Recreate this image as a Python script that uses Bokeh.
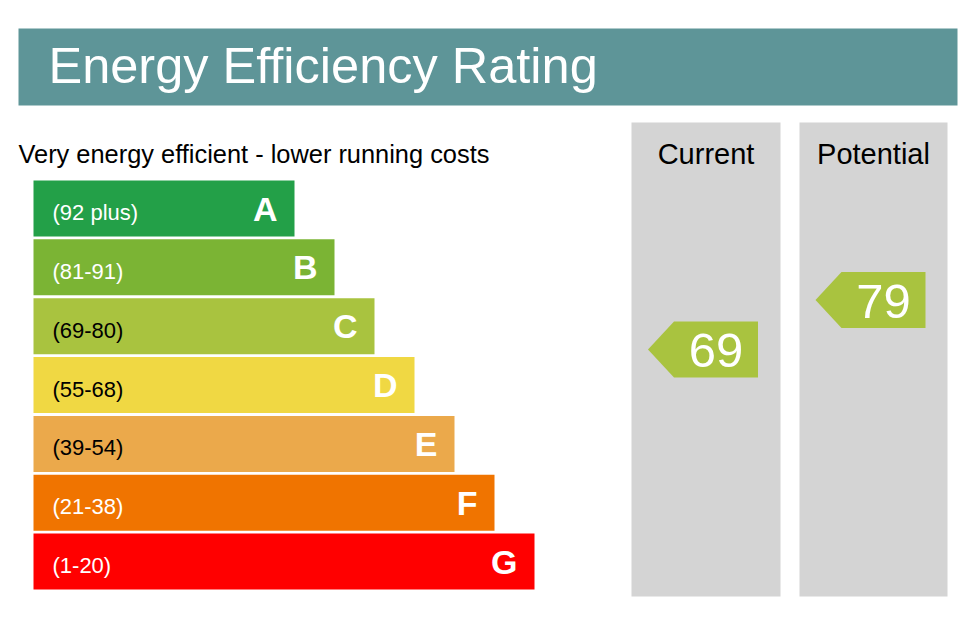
from bokeh.plotting import figure
from bokeh.models import ColumnDataSource, Range1d
from bokeh.core.properties import value
from bokeh.embed import file_html
from bokeh.resources import INLINE

# data
bands = ["A", "B", "C", "D", "E", "F", "G"]
band_ranges = ["(92 plus)", "(81-91)", "(69-80)", "(55-68)", "(39-54)", "(21-38)", "(1-20)"]
band_colors = ["#23A048", "#7BB434", "#A9C33F", "#F0D843", "#EBA94B", "#F07400", "#FF0000"]
range_text_colors = ["white", "white", "black", "black", "black", "white", "white"]
columns = ["Current", "Potential"]
ratings = [69, 79]
rating_color = "#A9C33F"

FONT = value("Liberation Sans")

# figure units are page pixels
p = figure(
    width=964,
    height=626,
    x_range=Range1d(0, 964),
    y_range=Range1d(626, 0),
    output_backend="svg",
    toolbar_location=None,
    tools="",
    min_border=0,
)
p.axis.visible = False
p.grid.grid_line_color = None
p.outline_line_color = None
p.background_fill_color = "white"

# header
p.quad(left=18, right=957, top=28, bottom=105, fill_color="#5E9598", line_color=None)
p.text(x=[48], y=[65], text=["Energy Efficiency Rating"], text_font=FONT,
       text_font_size="50.5px", text_color="white", text_baseline="middle")

p.text(x=[18], y=[153], text=["Very energy efficient - lower running costs"],
       text_font=FONT, text_font_size="25.4px", text_color="black",
       text_baseline="middle")

# band bars
centers = [208 + 58.85 * i for i in range(len(bands))]
rights = [294 + 40 * i for i in range(len(bands))]
bars = ColumnDataSource(dict(
    y=centers,
    right=rights,
    letter_x=[r - 17 for r in rights],
    label_y=[c + 4 for c in centers],
    band=bands,
    rng=band_ranges,
    color=band_colors,
    tcolor=range_text_colors,
))
p.hbar(y="y", left=33, right="right", height=56, fill_color="color",
       line_color=None, source=bars)
p.text(x=52, y="label_y", text="rng", text_color="tcolor", text_font=FONT,
       text_font_size="22px", text_baseline="middle", source=bars)
p.text(x="letter_x", y="y", text="band", text_color="white", text_font=FONT,
       text_font_size="34px", text_font_style="bold", text_align="right",
       text_baseline="middle", source=bars)

# current / potential panels
panel_left = [631, 799]
panel_right = [780, 947]
panel_mid = [(a + b) / 2 for a, b in zip(panel_left, panel_right)]
p.quad(left=panel_left, right=panel_right, top=122, bottom=596,
       fill_color="#D4D4D4", line_color=None)
p.text(x=panel_mid, y=[153] * 2, text=columns, text_font=FONT,
       text_font_size="29px", text_color="black", text_align="center",
       text_baseline="middle")

# rating arrows, placed on a linear rating scale
arrow_y = [349 - 4.95 * (r - 69) for r in ratings]
xs, ys, num_x = [], [], []
for mid, yc in zip(panel_mid, arrow_y):
    right = mid + 52
    left = right - 84
    tip = right - 110
    xs.append([tip, left, right, right, left])
    ys.append([yc, yc - 28, yc - 28, yc + 28, yc + 28])
    num_x.append((left + right) / 2)
p.patches(xs=xs, ys=ys, fill_color=rating_color, line_color=None)
p.text(x=num_x, y=[y + 1 for y in arrow_y], text=[str(r) for r in ratings],
       text_font=FONT, text_font_size="49px", text_color="white",
       text_align="center", text_baseline="middle")

open("out.html", "w").write(file_html(p, INLINE))
